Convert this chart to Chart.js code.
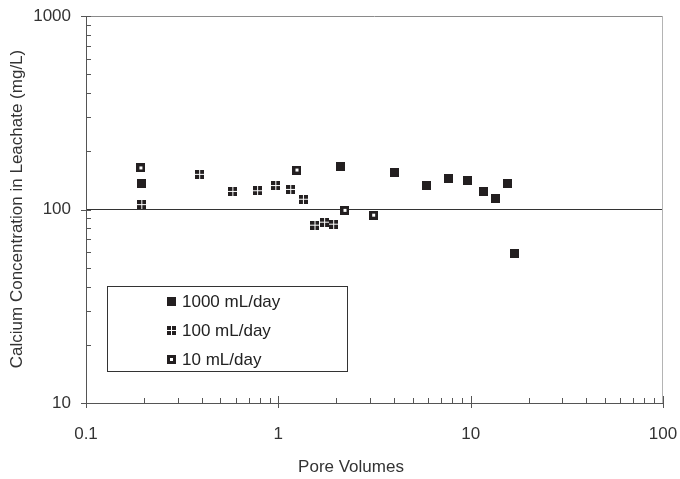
<!DOCTYPE html>
<html>
<head>
<meta charset="utf-8">
<script src="https://cdn.jsdelivr.net/npm/chart.js@4.4.1/dist/chart.umd.min.js"></script>
<style>
  html, body { margin: 0; padding: 0; background: #fff; }
  canvas { display: block; }
</style>
</head>
<body>
<canvas id="chart" width="680" height="479"></canvas>
<script>
// values
const x1000 = [0.195, 2.1, 4.0, 5.9, 7.7, 9.6, 11.6, 13.4, 15.5, 17.0];
const y1000 = [136, 167, 155, 133, 145, 141, 124, 114, 136, 59];

const x100 = [0.195, 0.39, 0.58, 0.78, 0.97, 1.16, 1.35, 1.55, 1.74, 1.94];
const y100 = [106, 152, 124, 125, 133, 127, 113, 83, 86, 84];

const x10 = [0.193, 1.25, 2.22, 3.13];
const y10 = [164, 160, 99, 93.5];

const seriesLabels = ["1000 mL/day", "100 mL/day", "10 mL/day"];
const xTickLabels = ["0.1", "1", "10", "100"];
const yTickLabels = ["10", "100", "1000"];
const xTitle = "Pore Volumes";
const yTitle = "Calcium Concentration in Leachate (mg/L)";

const FONT = '"Liberation Sans", Arial, sans-serif';
const INK = "#231f20";

// square markers: solid, quartered, hollow
function marker(kind) {
  const c = document.createElement("canvas");
  c.width = 9;
  c.height = 9;
  const g = c.getContext("2d");
  g.fillStyle = INK;
  g.fillRect(0, 0, 9, 9);
  g.fillStyle = "#fff";
  if (kind === "cross") {
    g.fillRect(4, 0, 1, 9);
    g.fillRect(0, 4, 9, 1);
  }
  if (kind === "open") g.fillRect(3, 3, 3, 3);
  return c;
}
const markers = [marker("solid"), marker("cross"), marker("open")];

const pts = (xs, ys) => xs.map((x, i) => ({ x: x, y: ys[i] }));

const isDecade = v => Math.abs(Math.log10(v) - Math.round(Math.log10(v))) < 1e-6;
const logTicks = labels => {
  const out = [];
  labels.forEach((l, i) => {
    const base = parseFloat(l);
    if (i === labels.length - 1) { out.push({ value: base }); return; }
    for (let k = 1; k <= 9; k++) out.push({ value: +(base * k).toPrecision(6) });
  });
  return out;
};
const tickText = (labels, v) => {
  const hit = labels.find(l => Math.abs(parseFloat(l) - v) < 1e-9);
  return hit || "";
};

const decor = {
  id: "decor",
  afterDraw(chart) {
    const { ctx, chartArea: a, scales } = chart;
    const x = scales.x, y = scales.y;
    ctx.save();
    ctx.lineWidth = 1;

    // top / right frame
    ctx.strokeStyle = "#8a8a8a";
    ctx.beginPath();
    ctx.moveTo(a.left, a.top + 0.5);
    ctx.lineTo(a.right, a.top + 0.5);
    ctx.stroke();
    ctx.strokeStyle = "#b4b4b4";
    ctx.beginPath();
    ctx.moveTo(a.right - 0.5, a.top);
    ctx.lineTo(a.right - 0.5, a.bottom);
    ctx.stroke();

    // tick marks
    ctx.strokeStyle = "#555";
    ctx.beginPath();
    x.ticks.forEach(t => {
      const px = Math.round(x.getPixelForValue(t.value)) + 0.5;
      const major = isDecade(t.value);
      ctx.moveTo(px, a.bottom + (major ? 5 : 0));
      ctx.lineTo(px, a.bottom - (major ? 7 : 5));
    });
    y.ticks.forEach(t => {
      const py = Math.round(y.getPixelForValue(t.value)) + 0.5;
      const major = isDecade(t.value);
      ctx.moveTo(a.left - (major ? 5 : 0), py);
      ctx.lineTo(a.left + 5, py);
    });
    ctx.stroke();

    // axis titles
    ctx.fillStyle = "#333";
    ctx.font = "17px " + FONT;
    ctx.textAlign = "center";
    ctx.textBaseline = "middle";
    ctx.fillText(xTitle, 351, 467);
    ctx.save();
    ctx.translate(17, 209);
    ctx.rotate(-Math.PI / 2);
    ctx.fillText(yTitle, 0, 0);
    ctx.restore();

    // legend box
    const bx = 107.5, by = 286.5, bw = 240, bh = 85;
    ctx.fillStyle = "#fff";
    ctx.fillRect(bx, by, bw, bh);
    ctx.strokeStyle = "#333";
    ctx.strokeRect(bx, by, bw, bh);
    ctx.textAlign = "left";
    ctx.fillStyle = "#222";
    seriesLabels.forEach((lab, i) => {
      const cy = 301 + i * 29;
      ctx.drawImage(markers[i], 167, cy - 4);
      ctx.fillText(lab, 182, cy + 1);
    });
    ctx.restore();
  }
};

const ds = (label, data, i) => ({
  label: label,
  data: data,
  pointStyle: markers[i],
  pointRadius: 5,
  pointHoverRadius: 5,
  showLine: false
});

new Chart(document.getElementById("chart"), {
  type: "scatter",
  data: {
    datasets: [
      ds(seriesLabels[0], pts(x1000, y1000), 0),
      ds(seriesLabels[1], pts(x100, y100), 1),
      ds(seriesLabels[2], pts(x10, y10), 2)
    ]
  },
  options: {
    responsive: false,
    animation: false,
    events: [],
    layout: { padding: { top: 16, right: 17, left: 0, bottom: 0 } },
    plugins: { legend: { display: false }, tooltip: { enabled: false } },
    scales: {
      x: {
        type: "logarithmic",
        min: 0.1,
        max: 100,
        afterBuildTicks: s => { s.ticks = logTicks(xTickLabels); },
        afterFit: s => { s.height = 76; s.paddingLeft = 0; s.paddingRight = 0; },
        grid: { display: false, drawTicks: false },
        border: { display: true, color: "#555", width: 1 },
        ticks: {
          autoSkip: false,
          maxRotation: 0,
          padding: 21,
          color: "#333",
          font: { family: FONT, size: 17 },
          callback: v => tickText(xTickLabels, v)
        }
      },
      y: {
        type: "logarithmic",
        min: 10,
        max: 1000,
        afterBuildTicks: s => { s.ticks = logTicks(yTickLabels); },
        afterFit: s => { s.width = 86; s.paddingTop = 0; s.paddingBottom = 0; },
        grid: {
          drawTicks: false,
          color: c => (c.tick && c.tick.value === 100 ? "#333" : "rgba(0,0,0,0)")
        },
        border: { display: true, color: "#555", width: 1 },
        ticks: {
          autoSkip: false,
          padding: 15,
          color: "#333",
          font: { family: FONT, size: 17 },
          callback: v => tickText(yTickLabels, v)
        }
      }
    }
  },
  plugins: [decor]
});
</script>
</body>
</html>
